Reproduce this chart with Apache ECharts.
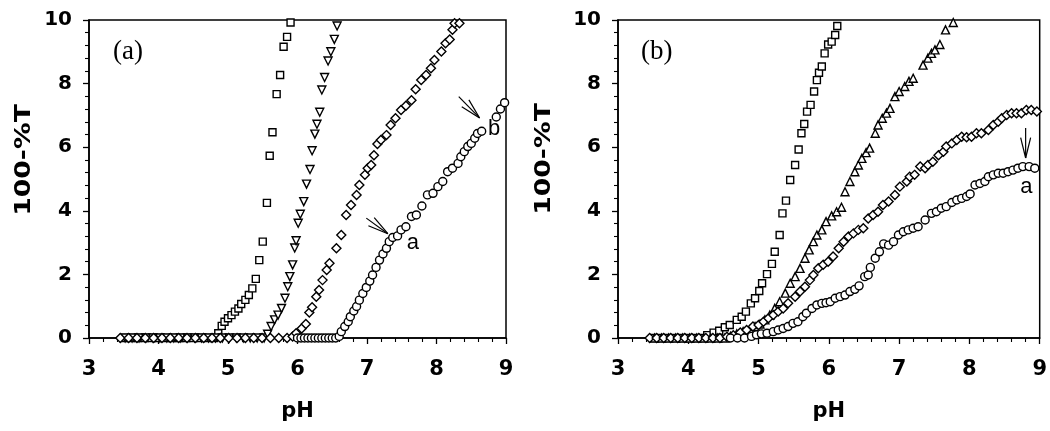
<!DOCTYPE html>
<html>
<head>
<meta charset="utf-8">
<script src="https://cdn.jsdelivr.net/npm/echarts@6/dist/echarts.min.js"></script>
<style>
html,body{margin:0;padding:0;background:#fff;}
#c{width:1050px;height:431px;}
</style>
</head>
<body>
<div id="c"></div>
<script>
// ---------- DATA ----------
const xTicks = [3, 4, 5, 6, 7, 8, 9];
const yTicks = [0, 2, 4, 6, 8, 10];
const xName = 'pH';
const yName = '100-%T';
const panelLabels = ['(a)', '(b)'];

// Panel (a)
const aSquares = [
  [3.50,0],[3.60,0],[3.70,0],[3.80,0],[3.90,0],[4.00,0],[4.10,0],[4.20,0],[4.30,0],[4.40,0],[4.50,0],[4.60,0],[4.70,0],[4.80,0],
  [4.86,0.15],[4.91,0.38],[4.95,0.51],[5.00,0.62],[5.05,0.72],[5.10,0.83],[5.15,0.93],[5.19,1.07],[5.25,1.20],[5.30,1.35],
  [5.35,1.56],[5.40,1.86],[5.45,2.45],[5.50,3.03],[5.56,4.25],[5.60,5.73],[5.64,6.47],[5.70,7.67],[5.75,8.27],[5.80,9.16],
  [5.85,9.47],[5.90,9.92]
];
const aTrianglesDown = [
  [3.52,0],[3.62,0],[3.72,0],[3.82,0],[3.92,0],[4.02,0],[4.12,0],[4.22,0],[4.32,0],[4.42,0],[4.52,0],[4.62,0],[4.72,0],
  [4.82,0],[4.92,0],[5.02,0],[5.12,0],[5.22,0],[5.32,0],[5.42,0],[5.52,0],
  [5.57,0.12],[5.62,0.36],[5.67,0.57],[5.72,0.72],[5.77,0.93],[5.82,1.25],[5.86,1.61],[5.89,1.93],[5.93,2.30],[5.96,2.83],
  [5.98,3.06],[6.01,3.61],[6.04,3.89],[6.09,4.29],[6.13,4.84],[6.18,5.30],[6.21,5.89],[6.25,6.41],[6.28,6.72],[6.32,7.10],
  [6.35,7.80],[6.39,8.19],[6.44,8.71],[6.48,9.00],[6.53,9.39],[6.57,9.81]
];
const aDiamonds = [
  [3.45,0],[3.57,0],[3.69,0],[3.81,0],[3.93,0],[4.05,0],[4.17,0],[4.29,0],[4.41,0],[4.53,0],[4.65,0],[4.77,0],[4.89,0],
  [5.01,0],[5.13,0],[5.25,0],[5.37,0],[5.49,0],[5.61,0],[5.73,0],[5.85,0],[5.93,0.05],
  [5.98,0.15],[6.06,0.30],[6.12,0.44],[6.17,0.80],[6.21,0.97],[6.27,1.30],[6.31,1.51],[6.36,1.82],[6.42,2.14],[6.46,2.35],
  [6.56,2.82],[6.63,3.24],[6.70,3.87],[6.77,4.18],[6.85,4.50],[6.89,4.81],[6.97,5.13],[7.01,5.34],[7.06,5.44],[7.10,5.75],
  [7.15,6.10],[7.20,6.23],[7.28,6.38],[7.34,6.70],[7.41,6.91],[7.49,7.17],[7.56,7.30],[7.64,7.48],[7.70,7.82],[7.78,8.11],
  [7.85,8.27],[7.92,8.48],[7.97,8.74],[8.07,9.01],[8.13,9.27],[8.19,9.39],[8.23,9.69],[8.26,9.90],[8.33,9.90]
];
const aCircles = [
  [6.00,0],[6.05,0],[6.10,0],[6.15,0],[6.20,0],[6.25,0],[6.30,0],[6.35,0],[6.40,0],[6.45,0],[6.50,0],[6.55,0],[6.60,0.05],
  [6.63,0.20],[6.68,0.36],[6.73,0.51],[6.76,0.67],[6.81,0.85],[6.85,0.99],[6.89,1.19],[6.94,1.40],[6.99,1.59],[7.04,1.79],
  [7.08,1.98],[7.13,2.22],[7.18,2.45],[7.23,2.64],[7.28,2.82],[7.32,3.03],[7.37,3.16],[7.44,3.21],[7.49,3.40],[7.56,3.50],
  [7.64,3.82],[7.71,3.87],[7.79,4.15],[7.87,4.50],[7.95,4.55],[8.02,4.76],[8.09,4.92],[8.16,5.23],[8.23,5.34],[8.31,5.49],
  [8.35,5.70],[8.40,5.86],[8.45,6.02],[8.50,6.12],[8.55,6.28],[8.59,6.43],[8.65,6.50],[8.86,6.95],[8.92,7.20],
  [8.98,7.40]
];

// Panel (b)
const bSquares = [
  [3.50,0],[3.60,0],[3.70,0],[3.80,0],[3.90,0],[4.00,0],[4.10,0],[4.20,0],
  [4.27,0.09],[4.36,0.17],[4.44,0.23],[4.52,0.34],[4.59,0.41],[4.69,0.57],[4.76,0.67],[4.82,0.83],[4.89,1.09],[4.95,1.25],
  [5.01,1.48],[5.05,1.72],[5.12,2.01],[5.19,2.33],[5.23,2.71],[5.30,3.24],[5.34,3.92],[5.39,4.32],[5.45,4.97],[5.52,5.44],
  [5.57,5.93],[5.61,6.44],[5.65,6.73],[5.69,7.12],[5.74,7.33],[5.79,7.75],[5.83,8.11],[5.86,8.34],[5.90,8.54],[5.94,8.95],
  [5.99,9.23],[6.04,9.32],[6.09,9.53],[6.12,9.81]
];
const bTrianglesUp = [
  [3.52,0],[3.62,0],[3.72,0],[3.82,0],[3.92,0],[4.02,0],[4.12,0],[4.22,0],[4.32,0],[4.42,0],[4.52,0],[4.60,0.05],
  [4.69,0.13],[4.78,0.20],[4.88,0.27],[4.95,0.36],[5.02,0.44],[5.09,0.57],[5.16,0.72],[5.23,0.93],[5.30,1.14],[5.38,1.41],
  [5.45,1.72],[5.52,1.93],[5.59,2.19],[5.66,2.51],[5.72,2.77],[5.78,3.03],[5.83,3.24],[5.90,3.40],[5.96,3.66],[6.04,3.84],
  [6.11,3.97],[6.18,4.11],[6.23,4.60],[6.30,4.92],[6.37,5.23],[6.42,5.44],[6.47,5.65],[6.53,5.83],[6.58,5.97],[6.66,6.44],
  [6.70,6.70],[6.76,6.91],[6.82,7.07],[6.87,7.22],[6.94,7.59],[7.00,7.75],[7.08,7.91],[7.14,8.07],[7.20,8.17],[7.34,8.58],
  [7.41,8.80],[7.46,8.95],[7.51,9.06],[7.58,9.23],[7.66,9.69],[7.77,9.92]
];
const bDiamonds = [
  [3.45,0],[3.55,0],[3.65,0],[3.75,0],[3.85,0],[3.95,0],[4.05,0],[4.15,0],[4.25,0],[4.35,0],[4.45,0],
  [4.55,0.04],[4.64,0.09],[4.74,0.17],[4.83,0.25],[4.92,0.36],[5.00,0.41],[5.07,0.51],[5.14,0.62],[5.21,0.72],[5.28,0.83],
  [5.35,0.93],[5.42,1.09],[5.52,1.30],[5.59,1.46],[5.66,1.61],[5.73,1.82],[5.78,1.98],[5.85,2.19],[5.92,2.30],[5.99,2.40],
  [6.06,2.56],[6.14,2.82],[6.21,3.03],[6.28,3.19],[6.35,3.29],[6.42,3.40],[6.49,3.45],[6.56,3.76],[6.63,3.87],[6.70,3.97],
  [6.77,4.18],[6.85,4.29],[6.94,4.50],[7.01,4.76],[7.11,4.92],[7.15,5.07],[7.22,5.13],[7.30,5.39],[7.37,5.34],[7.41,5.44],
  [7.48,5.54],[7.56,5.75],[7.63,5.86],[7.67,6.02],[7.75,6.12],[7.82,6.23],[7.89,6.33],[7.96,6.31],[8.03,6.33],[8.10,6.44],
  [8.17,6.44],[8.27,6.54],[8.34,6.70],[8.41,6.80],[8.46,6.91],[8.53,7.01],[8.60,7.07],[8.67,7.07],[8.74,7.07],[8.81,7.17],
  [8.88,7.17],[8.96,7.12]
];
const bCircles = [
  [4.60,0],[4.70,0],[4.80,0],[4.90,0.05],[4.97,0.10],[5.04,0.13],[5.12,0.15],[5.21,0.20],[5.28,0.25],[5.35,0.30],[5.42,0.36],
  [5.49,0.46],[5.56,0.51],[5.63,0.67],[5.68,0.78],[5.76,0.93],[5.83,1.04],[5.90,1.09],[5.96,1.11],[6.02,1.14],[6.09,1.25],
  [6.16,1.30],[6.23,1.35],[6.30,1.46],[6.37,1.53],[6.43,1.64],[6.51,1.93],[6.56,1.98],[6.59,2.22],[6.66,2.51],[6.72,2.71],
  [6.78,2.96],[6.85,2.92],[6.92,3.03],[6.99,3.24],[7.06,3.34],[7.13,3.40],[7.20,3.45],[7.27,3.50],[7.37,3.71],[7.46,3.92],
  [7.53,3.97],[7.60,4.08],[7.67,4.13],[7.75,4.26],[7.82,4.34],[7.89,4.39],[7.96,4.45],[8.01,4.53],[8.08,4.81],[8.15,4.86],
  [8.22,4.92],[8.27,5.07],[8.34,5.13],[8.41,5.18],[8.48,5.18],[8.55,5.23],[8.62,5.28],[8.69,5.34],[8.76,5.39],[8.85,5.39],
  [8.93,5.34]
];

// annotation anchors (data coordinates)
const aNotes = [
  {panel:0, text:'a', at:[7.66,2.99], tail:[6.99,3.77], tip:[7.30,3.28]},
  {panel:0, text:'b', at:[8.83,6.58], tail:[8.32,7.59], tip:[8.62,6.92]},
  {panel:1, text:'a', at:[8.81,4.76], tail:[8.80,6.60], tip:[8.80,5.66]}
];
const panelTagPos = [[3.56,9.0],[3.55,9.0]];

// ---------- CHART ----------
const chart = echarts.init(document.getElementById('c'), null, {renderer:'canvas'});
const BOLD = '"DejaVu Sans", Verdana, sans-serif';

function xAx(g){
  return {
    gridIndex:g, type:'value', min:xTicks[0], max:xTicks[xTicks.length-1], interval:1,
    name:xName, nameLocation:'middle', nameGap:63,
    nameTextStyle:{fontFamily:BOLD, fontWeight:'bold', fontSize:21, color:'#000'},
    axisLine:{show:true, onZero:false, lineStyle:{color:'#000', width:1.5}},
    axisTick:{show:true, inside:false, length:6, lineStyle:{color:'#000', width:1.3}},
    minorTick:{show:true, splitNumber:5, length:4, lineStyle:{color:'#000', width:1.1}},
    axisLabel:{margin:21, fontFamily:BOLD, fontWeight:'bold', fontSize:21, color:'#000'},
    splitLine:{show:false}
  };
}
function yAx(g){
  return {
    gridIndex:g, type:'value', min:yTicks[0], max:yTicks[yTicks.length-1], interval:2,
    axisLine:{show:true, onZero:false, lineStyle:{color:'#000', width:1.5}},
    axisTick:{show:true, inside:false, length:6, lineStyle:{color:'#000', width:1.3}},
    minorTick:{show:true, splitNumber:5, length:4, lineStyle:{color:'#000', width:1.1}},
    axisLabel:{margin:17, fontFamily:BOLD, fontWeight:'bold', fontSize:20, color:'#000'},
    splitLine:{show:false}
  };
}
function sc(g, data, symbol, size, rot){
  return {
    type:'scatter', xAxisIndex:g, yAxisIndex:g, data:data, symbol:symbol, symbolSize:size,
    symbolRotate:rot||0,
    itemStyle:{color:'#fff', borderColor:'#000', borderWidth:1.4, opacity:1},
    emphasis:{disabled:true}, silent:true
  };
}

const option = {
  animation:false,
  backgroundColor:'#fff',
  grid:[
    {left:89, top:20, right:544, bottom:93, show:true, borderColor:'#000', borderWidth:1.5, backgroundColor:'transparent'},
    {left:618, top:20, right:10, bottom:93, show:true, borderColor:'#000', borderWidth:1.5, backgroundColor:'transparent'}
  ],
  xAxis:[xAx(0), xAx(1)],
  yAxis:[yAx(0), yAx(1)],
  series:[
    sc(0, aSquares, 'rect', 7),
    sc(0, aTrianglesDown, 'triangle', 8, 180),
    sc(0, aDiamonds, 'diamond', 9),
    sc(0, aCircles, 'circle', 8),
    sc(1, bSquares, 'rect', 7),
    sc(1, bTrianglesUp, 'triangle', 8),
    sc(1, bDiamonds, 'diamond', 9),
    sc(1, bCircles, 'circle', 8)
  ]
};
chart.setOption(option);

// annotations via the chart's own coordinate conversion
function P(g, pt){ return chart.convertToPixel({xAxisIndex:g, yAxisIndex:g}, pt); }
const gfx = [];
// y axis titles (stretched like the original)
[[25,160],[545,159]].forEach(function(c){
  gfx.push({type:'text', x:c[0], y:c[1], rotation:Math.PI/2, scaleX:1.27, silent:true,
    style:{text:yName, fill:'#000', font:'bold 21px "DejaVu Sans", Verdana, sans-serif',
      textAlign:'center', textVerticalAlign:'middle'}});
});
panelTagPos.forEach(function(pos, i){
  const p = P(i, pos);
  gfx.push({type:'text', x:p[0], y:p[1], silent:true,
    style:{text:panelLabels[i], fill:'#000', font:'27px "Liberation Serif", "Times New Roman", serif',
      textAlign:'center', textVerticalAlign:'middle'}});
});
aNotes.forEach(function(n){
  const lp = P(n.panel, n.at);
  gfx.push({type:'text', x:lp[0], y:lp[1], silent:true,
    style:{text:n.text, fill:'#000', font:'22px "Liberation Sans", Arial, sans-serif',
      textAlign:'center', textVerticalAlign:'middle'}});
  const t = P(n.panel, n.tail), h = P(n.panel, n.tip);
  gfx.push({type:'line', silent:true, shape:{x1:t[0], y1:t[1], x2:h[0], y2:h[1]}, style:{stroke:'#000', lineWidth:1.2}});
  const ang = Math.atan2(t[1]-h[1], t[0]-h[0]);
  const L = 21, da = 0.24;
  [ang+da, ang-da].forEach(function(a){
    gfx.push({type:'line', silent:true,
      shape:{x1:h[0], y1:h[1], x2:h[0]+L*Math.cos(a), y2:h[1]+L*Math.sin(a)},
      style:{stroke:'#000', lineWidth:1.2}});
  });
});
chart.setOption({graphic:gfx});
</script>
</body>
</html>
